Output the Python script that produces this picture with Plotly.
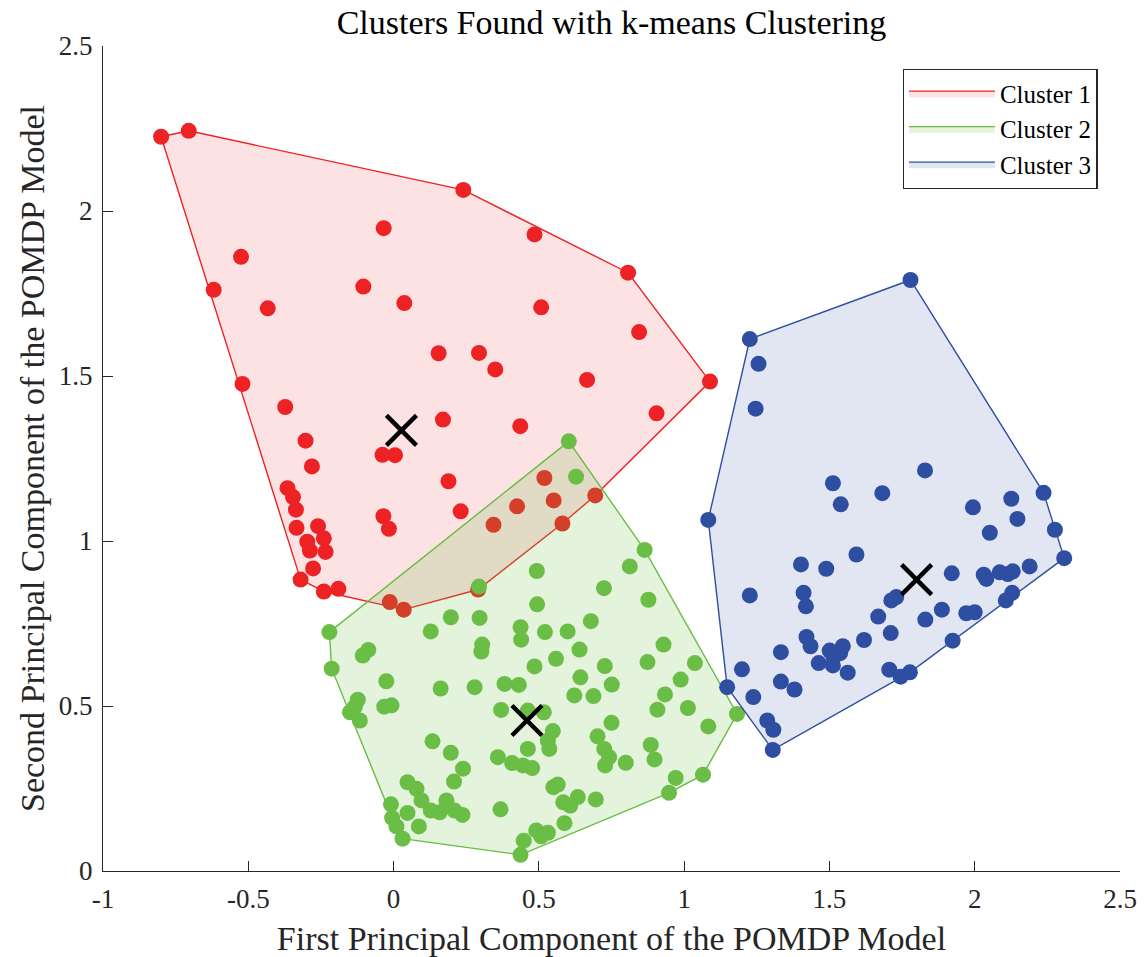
import numpy as np
import plotly.graph_objects as go

# ---------------- data ----------------
c1_x = [-0.800, -0.705, -0.034, -0.525, -0.619, -0.104, -0.433, 0.037, 0.155, 0.240,
        0.485, 0.807, 0.508, 0.845, 0.294, 0.350, 0.666, 1.089, 0.170, 0.436,
        0.905, 0.189, 0.231, 0.519, 0.425, 0.551, 0.344, 0.694, 0.581, 0.291,
        -0.520, -0.373, -0.303, -0.281, -0.038, 0.005, -0.365, -0.346, -0.336, -0.035,
        -0.016, -0.334, -0.260, -0.240, -0.297, -0.288, -0.234, -0.277, -0.320, -0.240,
        -0.190, -0.013, 0.035]
c1_y = [2.225, 2.243, 1.948, 1.861, 1.761, 1.771, 1.705, 1.721, 1.569, 2.064,
        1.929, 1.813, 1.708, 1.633, 1.570, 1.520, 1.488, 1.483, 1.368, 1.348,
        1.387, 1.181, 1.090, 1.191, 1.105, 1.123, 1.049, 1.138, 1.053, 0.853,
        1.476, 1.406, 1.304, 1.226, 1.261, 1.260, 1.160, 1.133, 1.095, 1.075,
        1.037, 1.040, 1.045, 1.008, 0.998, 0.971, 0.967, 0.917, 0.883, 0.847,
        0.855, 0.815, 0.792]

c2_x = [0.603, 0.628, 0.864, 0.813, 0.493, 0.724, 0.294, 0.877, 0.494,
        -0.221, 0.197, 0.296, 0.128, 0.437, 0.439, 0.521, -0.087, -0.106, 0.305,
        0.302, -0.213, 0.485, 0.559, -0.025, 0.162, 0.279, 0.382, 0.431, -0.123,
        -0.133, -0.150, -0.116, -0.032, -0.007, 0.370, 0.462, 0.517, 0.548, 0.531,
        0.536, 0.462, 0.134, 0.197, 0.239, 0.208, 0.359, 0.408, 0.445, 0.477,
        0.048, 0.079, 0.096, 0.128, 0.159, 0.182, 0.210, 0.237, -0.009, -0.005,
        0.048, 0.010, 0.087, 0.031, 0.368, 0.437, 0.448, 0.491, 0.531, 0.508,
        0.550, 0.565, 0.584, 0.588,
        0.599, 0.679, 0.640, 0.929, 0.874, 1.037, 0.988, 0.727, 0.643, 0.751,
        0.622, 0.688, 0.934, 0.908, 1.013, 1.083, 1.182, 0.750, 0.702, 0.725,
        0.742, 0.728, 0.799, 0.885, 0.898, 0.971, 1.065, 0.948, 0.634, 0.608,
        0.696]
c2_y = [1.302, 1.195, 0.973, 0.923, 0.909, 0.857, 0.862, 0.822, 0.808,
        0.724, 0.769, 0.767, 0.726, 0.739, 0.701, 0.724, 0.670, 0.653, 0.686,
        0.665, 0.613, 0.620, 0.643, 0.575, 0.553, 0.557, 0.567, 0.564, 0.519,
        0.498, 0.481, 0.456, 0.498, 0.502, 0.488, 0.486, 0.481, 0.424, 0.395,
        0.370, 0.370, 0.393, 0.358, 0.310, 0.271, 0.345, 0.327, 0.320, 0.312,
        0.269, 0.249, 0.214, 0.183, 0.178, 0.214, 0.183, 0.170, 0.202, 0.161,
        0.176, 0.135, 0.135, 0.098, 0.187, 0.049, 0.092, 0.123, 0.116, 0.105,
        0.254, 0.262, 0.208, 0.145,
        0.726, 0.757, 0.671, 0.686, 0.633, 0.630, 0.580, 0.621, 0.587, 0.565,
        0.532, 0.530, 0.535, 0.489, 0.494, 0.438, 0.476, 0.449, 0.408, 0.370,
        0.345, 0.320, 0.328, 0.382, 0.338, 0.282, 0.292, 0.237, 0.224, 0.198,
        0.217]

c3_x = [1.779, 1.226, 1.256, 1.246, 1.829, 1.512, 1.682, 1.539, 1.083, 1.593,
        1.402, 1.489, 1.226, 1.411, 1.419, 1.668, 1.619, 1.421, 1.435, 1.501,
        1.546, 1.514, 1.463, 1.512, 1.537, 1.563, 1.333, 1.199, 1.333, 1.380,
        1.148, 1.238, 1.286, 1.307, 1.305,
        1.994, 2.126, 2.147, 2.237, 2.276, 2.308, 2.052, 1.921, 2.031, 2.040,
        2.086, 2.131, 2.114, 2.189, 2.129, 2.107, 1.730, 1.713, 1.887, 1.971,
        2.000, 1.830, 1.711, 1.924, 1.706, 1.745, 1.777]
c3_y = [1.791, 1.612, 1.537, 1.401, 1.214, 1.175, 1.145, 1.111, 1.064, 0.959,
        0.929, 0.916, 0.835, 0.843, 0.802, 0.771, 0.700, 0.709, 0.681, 0.668,
        0.681, 0.648, 0.630, 0.623, 0.660, 0.601, 0.663, 0.611, 0.574, 0.550,
        0.557, 0.527, 0.456, 0.428, 0.367,
        1.102, 1.128, 1.067, 1.146, 1.034, 0.948, 1.025, 0.902, 0.898, 0.885,
        0.905, 0.908, 0.900, 0.923, 0.843, 0.820, 0.830, 0.820, 0.792, 0.781,
        0.784, 0.762, 0.721, 0.698, 0.610, 0.589, 0.602]

centroid_x = [0.027, 0.459, 1.800]
centroid_y = [1.335, 0.456, 0.883]

names = ["Cluster 1", "Cluster 2", "Cluster 3"]
marker_colors = ["#ED2224", "#6ABD45", "#2E4FA1"]
fill_colors = ["rgba(237,34,36,0.13)", "rgba(106,189,69,0.19)", "rgba(46,79,161,0.14)"]


def convex_hull(xs, ys):
    pts = sorted(set(zip(xs, ys)))
    def cross(o, a, b):
        return (a[0]-o[0])*(b[1]-o[1]) - (a[1]-o[1])*(b[0]-o[0])
    lower, upper = [], []
    for p in pts:
        while len(lower) >= 2 and cross(lower[-2], lower[-1], p) <= 0:
            lower.pop()
        lower.append(p)
    for p in reversed(pts):
        while len(upper) >= 2 and cross(upper[-2], upper[-1], p) <= 0:
            upper.pop()
        upper.append(p)
    hull = lower[:-1] + upper[:-1]
    hull.append(hull[0])
    return [p[0] for p in hull], [p[1] for p in hull]


FONT = "Liberation Serif"
fig = go.Figure()
for cx, cy, nm, mc, fc in zip([c1_x, c2_x, c3_x], [c1_y, c2_y, c3_y], names, marker_colors, fill_colors):
    hx, hy = convex_hull(cx, cy)
    fig.add_trace(go.Scatter(x=hx, y=hy, mode="lines", fill="toself", fillcolor=fc,
                             line=dict(color=mc, width=1.4), name=nm, showlegend=True,
                             hoverinfo="skip"))
    fig.add_trace(go.Scatter(x=cx, y=cy, mode="markers", showlegend=False,
                             marker=dict(size=16, color=mc, line=dict(width=0)), name=nm))

fig.add_trace(go.Scatter(x=centroid_x, y=centroid_y, mode="markers", showlegend=False,
                         marker=dict(symbol="x-thin", size=30, color="black",
                                     line=dict(color="black", width=4.5)),
                         name="Centroids"))

tick_vals_x = [-1, -0.5, 0, 0.5, 1, 1.5, 2, 2.5]
tick_text_x = ["-1", "-0.5", "0", "0.5", "1", "1.5", "2", "2.5"]
tick_vals_y = [0, 0.5, 1, 1.5, 2, 2.5]
tick_text_y = ["0", "0.5", "1", "1.5", "2", "2.5"]

axis_common = dict(showline=True, linecolor="#262626", linewidth=1.3, mirror=False,
                   ticks="inside", ticklen=10, tickwidth=1.3, tickcolor="#262626",
                   showgrid=False, zeroline=False,
                   tickfont=dict(family=FONT, size=27, color="#262626"))

fig.update_layout(
    width=1145, height=957,
    margin=dict(l=103, r=25, t=46, b=86, autoexpand=False),
    plot_bgcolor="white", paper_bgcolor="white",
    title=dict(text="Clusters Found with k-means Clustering", x=0.5, xref="paper",
               xanchor="center", y=1 - 22/957, yref="container", yanchor="middle",
               font=dict(family=FONT, size=34, color="black")),
    xaxis=dict(range=[-1, 2.5], tickvals=tick_vals_x, ticktext=tick_text_x,
               title=dict(text="First Principal Component of the POMDP Model",
                          font=dict(family=FONT, size=34, color="#262626"), standoff=14),
               ticklabelstandoff=3, **axis_common),
    yaxis=dict(range=[0, 2.5], tickvals=tick_vals_y, ticktext=tick_text_y,
               title=dict(text="Second Principal Component of the POMDP Model",
                          font=dict(family=FONT, size=34, color="#262626"), standoff=3),
               ticklabelstandoff=4, **axis_common),
    legend=dict(x=0.978, y=0.972, xanchor="right", yanchor="top",
                bgcolor="white", bordercolor="#262626", borderwidth=1.3,
                font=dict(family=FONT, size=25, color="black"),
                tracegroupgap=0, itemwidth=86),
    showlegend=True,
)

fig.write_html("out.html", config={"displayModeBar": False},
               post_script="document.body.style.margin='0';")
